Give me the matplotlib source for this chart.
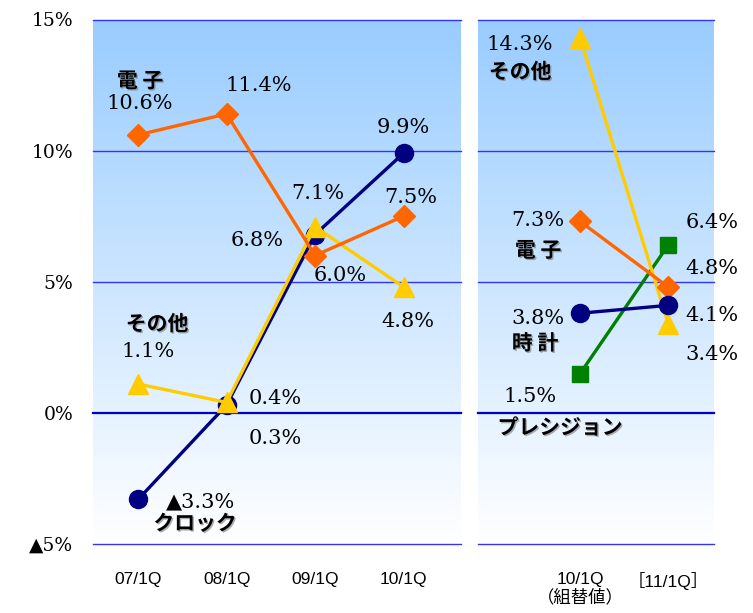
import numpy as np
import matplotlib.pyplot as plt
import matplotlib.patheffects as pe
from matplotlib.colors import LinearSegmentedColormap

# left panel data
left_cats = ['07/1Q', '08/1Q', '09/1Q', '10/1Q']
denshi_l = [10.6, 11.4, 6.0, 7.5]
clock_l = [-3.3, 0.3, 6.8, 9.9]
sonota_l = [1.1, 0.4, 7.1, 4.8]

# right panel data
right_cats = ['10/1Q\n（組替値）', '［11/1Q］']
denshi_r = [7.3, 4.8]
tokei_r = [3.8, 4.1]
precision_r = [1.5, 6.4]
sonota_r = [14.3, 3.4]

yticks = [-5, 0, 5, 10, 15]
ytick_labels = ['▲5%', '0%', '5%', '10%', '15%']

ORANGE = '#FF6600'
NAVY = '#000080'
GOLD = '#FFCC00'
GREEN = '#008000'

NUM_FONT = ['DejaVu Serif', 'DejaVu Sans']
JP_FONT = ['Noto Sans CJK JP', 'DejaVu Sans']
TICK_FONT = ['Liberation Sans', 'Noto Sans CJK JP']

fig = plt.figure(figsize=(7.53, 6.13), dpi=100)
axL = fig.add_axes([93 / 753, 1 - 544 / 613, 368 / 753, 524.5 / 613])
axR = fig.add_axes([478 / 753, 1 - 544 / 613, 236 / 753, 524.5 / 613])

grad = LinearSegmentedColormap.from_list('bg', ['#FFFFFF', '#99CCFF'])


def setup(ax, xlim):
    ax.set_xlim(*xlim)
    ax.set_ylim(-5, 15)
    g = np.linspace(0, 1, 256).reshape(-1, 1)
    ax.imshow(g, cmap=grad, origin='lower', aspect='auto',
              extent=[xlim[0], xlim[1], -5, 15], zorder=0)
    for y in yticks:
        if y == 0:
            ax.axhline(y, color='#0000CC', lw=1.6, zorder=1, clip_on=False)
        else:
            ax.axhline(y, color='#3333FF', lw=1.0, zorder=1, clip_on=False)
    for s in ax.spines.values():
        s.set_visible(False)
    ax.tick_params(length=0)


setup(axL, (-0.51, 3.65))
setup(axR, (-1.16, 1.52))

xl = np.arange(len(left_cats))
xr = np.arange(len(right_cats))

axL.plot(xl, clock_l, color=NAVY, lw=2.4, marker='o', ms=13, zorder=3)
axL.plot(xl, sonota_l, color=GOLD, lw=2.4, marker='^', ms=15, zorder=4)
axL.plot(xl, denshi_l, color=ORANGE, lw=2.4, marker='D', ms=11, zorder=5)

axR.plot(xr, precision_r, color=GREEN, lw=2.4, marker='s', ms=12, zorder=3)
axR.plot(xr, sonota_r, color=GOLD, lw=2.4, marker='^', ms=15, zorder=4)
axR.plot(xr, denshi_r, color=ORANGE, lw=2.4, marker='D', ms=11, zorder=5)
axR.plot(xr, tokei_r, color=NAVY, lw=2.4, marker='o', ms=13, zorder=6)

axL.set_yticks(yticks, ytick_labels)
axL.tick_params(axis='y', pad=14, labelsize=13.5)
axR.set_yticks([])

axL.set_xticks(xl, left_cats)
axR.set_xticks(xr, right_cats, va='top', linespacing=1.15)
for ax in (axL, axR):
    ax.tick_params(axis='x', pad=20, labelsize=12.5)
    for t in ax.get_xticklabels():
        t.set_fontfamily(TICK_FONT)
for t in axL.get_yticklabels():
    t.set_fontfamily(NUM_FONT)


def fmt(v):
    return ('▲%.1f%%' % -v) if v < 0 else ('%.1f%%' % v)


def num(ax, x, v, dx, dy):
    ax.annotate(fmt(v), (x, v), xytext=(dx, dy), textcoords='offset pixels',
                ha='center', va='center', family=NUM_FONT, fontsize=15,
                zorder=10, annotation_clip=False)


shadow = [pe.withSimplePatchShadow(offset=(1, -1), shadow_rgbFace='#777777', alpha=0.6)]


def name(ax, x, v, text, dx, dy):
    ax.annotate(text, (x, v), xytext=(dx, dy), textcoords='offset pixels',
                ha='center', va='center', family=JP_FONT, fontsize=15,
                fontweight='bold', zorder=10, annotation_clip=False,
                path_effects=shadow)


# left labels (pixel offsets from each point)
denshi_off = [(2, 31), (32, 28), (25, -20), (7, 19)]
clock_off = [(62, -3), (49, -33), (-58, -6), (0, 26)]
sonota_off = [(10, 33), (49, 4), (3, 33), (4, -35)]
for i in range(4):
    num(axL, xl[i], denshi_l[i], *denshi_off[i])
    num(axL, xl[i], clock_l[i], *clock_off[i])
    num(axL, xl[i], sonota_l[i], *sonota_off[i])
name(axL, xl[0], denshi_l[0], '電 子', 2, 54)
name(axL, xl[0], clock_l[0], 'クロック', 57, -24)
name(axL, xl[0], sonota_l[0], 'その他', 19, 60)

# right labels
num(axR, xr[0], denshi_r[0], -42, 1)
num(axR, xr[1], denshi_r[1], 44, 18)
num(axR, xr[0], tokei_r[0], -42, -5)
num(axR, xr[1], tokei_r[1], 44, -10)
num(axR, xr[0], precision_r[0], -50, -23)
num(axR, xr[1], precision_r[1], 44, 23)
num(axR, xr[0], sonota_r[0], -60, -7)
num(axR, xr[1], sonota_r[1], 44, -31)
name(axR, xr[0], denshi_r[0], '電 子', -42, -29)
name(axR, xr[0], tokei_r[0], '時 計', -45, -30)
name(axR, xr[0], precision_r[0], 'プレシジョン', -20, -54)
name(axR, xr[0], sonota_r[0], 'その他', -60, -34)

fig.savefig('out.png', dpi=100)
